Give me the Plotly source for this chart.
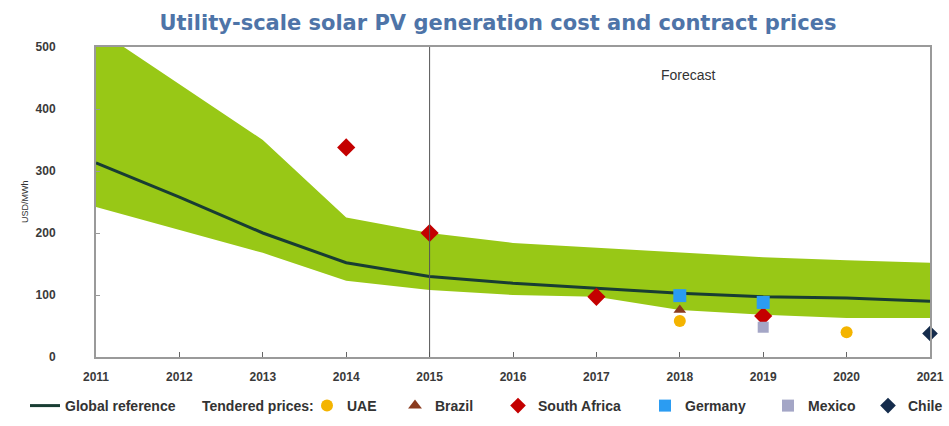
import plotly.graph_objects as go

# cost band and global reference (USD/MWh)
years = [2011, 2012, 2013, 2014, 2015, 2016, 2017, 2018, 2019, 2020, 2021]
band_upper = [530, 440, 350, 225, 200, 184, 176, 168, 161, 156, 152]
band_lower = [242, 205, 168, 123, 108, 100, 97, 76, 68, 63, 63]
global_ref = [313, 258, 200, 152, 130, 119, 111, 103, 97, 95, 90]

# tendered prices
uae_x, uae_y = [2018, 2020], [58, 40]
brazil_x, brazil_y = [2018], [76]
safrica_x, safrica_y = [2014, 2015, 2017, 2019], [338, 200, 97, 66]
germany_x, germany_y = [2018, 2019], [99, 88]
mexico_x, mexico_y = [2019], [48]
chile_x, chile_y = [2021], [38]

FONT = "Liberation Sans, Arial, sans-serif"
TICK_FONT = dict(family=FONT, size=12, color="#3a3a3a", weight="bold")
LEG_FONT = dict(family=FONT, size=14, color="#333333", weight="bold")

W, H = 949, 426
PL, PR, PT, PB = 96, 930, 47, 357  # plot area on the page


def cx(px):
    return px / W


def cy(py):
    return 1 - py / H


def paper_x(px):
    return (px - PL) / (PR - PL)


fig = go.Figure()

fig.add_trace(go.Scatter(x=years, y=band_lower, mode="lines", line=dict(width=0),
                         showlegend=False, hoverinfo="skip"))
fig.add_trace(go.Scatter(x=years, y=band_upper, mode="lines", line=dict(width=0),
                         fill="tonexty", fillcolor="#98c816", showlegend=False, hoverinfo="skip"))
fig.add_trace(go.Scatter(x=years, y=global_ref, mode="lines", name="Global reference",
                         line=dict(color="#183d33", width=3), legend="legend"))

# name, x, y, symbol, colour, size, legend left edge (page px)
markers = [
    ("UAE", uae_x, uae_y, "circle", "#f4b400", 12, 307),
    ("Brazil", brazil_x, brazil_y, "triangle-up", "#8a3b1e", 11, 395),
    ("South Africa", safrica_x, safrica_y, "diamond", "#c40000", 14, 498),
    ("Germany", germany_x, germany_y, "square", "#2b9cf2", 13, 645),
    ("Mexico", mexico_x, mexico_y, "square", "#a4a6c6", 11, 768),
    ("Chile", chile_x, chile_y, "diamond", "#152c4c", 12, 868),
]
legends = {}
for i, (name, xs, ys, sym, col, sz, lx) in enumerate(markers):
    key = "legend%d" % (i + 2)
    fig.add_trace(go.Scatter(x=xs, y=ys, mode="markers", name=name, legend=key,
                             marker=dict(symbol=sym, color=col, size=sz, line=dict(width=0)),
                             cliponaxis=False))
    legends[key] = dict(orientation="h", x=cx(lx), xref="container", xanchor="left",
                        y=cy(406), yref="container", yanchor="middle",
                        font=LEG_FONT, bgcolor="rgba(0,0,0,0)", itemsizing="constant")

fig.add_vline(x=2015, line=dict(color="#555555", width=1))

fig.add_annotation(x=2018.1, y=455, text="Forecast", showarrow=False,
                   font=dict(family=FONT, size=14, color="#333333"))
fig.add_annotation(x=paper_x(200), xref="paper", y=(PB - 406) / (PB - PT), yref="paper",
                   text="Tendered prices:", showarrow=False, xanchor="left", yanchor="middle",
                   font=LEG_FONT)
fig.add_annotation(x=paper_x(18), xref="paper", y=0.5, yref="paper", text="USD/MWh",
                   textangle=-90, showarrow=False, font=dict(family=FONT, size=9, color="#333333"))

fig.update_xaxes(range=[2011, 2021], tickvals=years, ticktext=[str(y) for y in years],
                 ticks="inside", ticklen=5, tickcolor="#666666", ticklabelstandoff=8,
                 showline=True, linecolor="#9a9a9a", linewidth=2, mirror=True,
                 showgrid=False, zeroline=False, tickfont=TICK_FONT, automargin=False)
fig.update_yaxes(range=[0, 500], dtick=100, ticks="inside", ticklen=4, tickcolor="#999999",
                 ticklabelstandoff=36,
                 showline=True, linecolor="#9a9a9a", linewidth=2, mirror=True,
                 showgrid=False, zeroline=False, tickfont=TICK_FONT, automargin=False)

fig.update_layout(
    width=W, height=H,
    margin=dict(l=PL, r=W - PR, t=PT, b=H - PB),
    paper_bgcolor="white", plot_bgcolor="white",
    title=dict(text="<b>Utility-scale solar PV generation cost and contract prices</b>",
               x=cx(498), xanchor="center", y=cy(23), yanchor="middle",
               font=dict(family="DejaVu Sans, Verdana, sans-serif", size=21, color="#4e74a8")),
    legend=dict(orientation="h", x=cx(25), xref="container", xanchor="left",
                y=cy(406), yref="container", yanchor="middle",
                font=LEG_FONT, bgcolor="rgba(0,0,0,0)"),
    **legends,
)

# drop the default body margin so the figure sits at the page corner
fig.write_html("out.html", config={"displayModeBar": False},
               post_script="document.body.style.margin='0';document.body.style.overflow='hidden';")
